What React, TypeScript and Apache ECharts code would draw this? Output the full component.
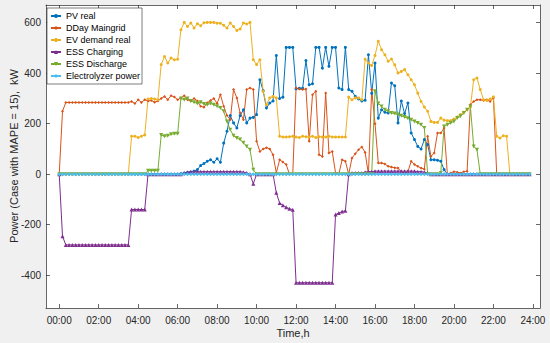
import React, { useEffect, useRef } from "react";
import * as echarts from "echarts";

// 10-minute time slots, expressed in hours (0:00 ... 23:50)
const timeSlots: number[] = Array.from({ length: 144 }, (_, i) => i / 6);

const xTickHours = [0, 2, 4, 6, 8, 10, 12, 14, 16, 18, 20, 22, 24];
const yTickValues = [-400, -200, 0, 200, 400, 600];

const pvReal = [
  0, 0, 0, 0, 0, 0, 0, 0, 0, 0, 0, 0, 0, 0, 0, 0, 0, 0,
  0, 0, 0, 0, 0, 0, 0, 0, 0, 0, 0, 0, 0, 0, 0, 0, 0, 0,
  0, 2, 4, 6, 8, 12,
  18, 34, 42, 51, 57, 47,
  61, 47, 123, 170, 232, 203,
  183, 232, 255, 203, 222, 225,
  236, 374, 330, 262, 282, 290,
  470, 300, 305, 502, 502, 502,
  338, 340, 340, 450, 354, 358,
  502, 502, 420, 502, 427, 502,
  502, 341, 335, 502, 335, 328,
  308, 298, 290, 293, 473, 320,
  440, 222, 255, 245, 242, 361,
  350, 203, 290, 240, 282, 163,
  137, 110, 100, 137, 117, 57,
  57, 55, 51, 18, 0, 0,
  0, 0, 0, 0, 0, 0, 0, 0, 0, 0, 0, 0,
  0, 0, 0, 0, 0, 0, 0, 0, 0, 0, 0, 0,
];

const ddayMaingrid = [
  0, 249, 284, 284, 284, 284,
  284, 284, 284, 284, 284, 284,
  284, 284, 284, 284, 284, 284,
  284, 284, 284, 284, 288, 280,
  295, 284, 295, 290, 292, 285,
  290, 300, 308, 295, 311, 306,
  295, 302, 311, 295, 290, 300,
  290, 269, 265, 283, 292, 300,
  280, 315, 269, 232, 216, 335,
  302, 242, 216, 335, 341, 335,
  130, 90, 100, 105, 100, 77,
  5, 57, 48, 38, 0, 0,
  341, 337, 335, 337, 130, 315,
  328, 77, 70, 321, 84, 90,
  5, 0, 57, 51, 0, 64,
  81, 97, 108, 86, 0, 335,
  200, 44, 44, 40, 31, 28,
  25, 24, 10, 5, 10, 51,
  38, 31, 24, 20, 150, 70,
  84, 163, 163, 183, 0, 5,
  10, 8, 5, 10, 12, 275,
  288, 295, 295, 292, 295, 288,
  302, 0, 0, 0, 0, 0,
  0, 0, 0, 0, 0, 0,
];

const evDemandReal = [
  0, 0, 0, 0, 0, 0,
  0, 0, 0, 0, 0, 0,
  0, 0, 0, 0, 0, 0,
  0, 0, 0, 0, 150, 150,
  145, 150, 155, 298, 300, 298,
  295, 434, 466, 440, 460, 453,
  455, 572, 601, 585, 599, 579,
  596, 588, 600, 601, 601, 601,
  598, 598, 590, 579, 599, 585,
  569, 575, 599, 595, 601, 453,
  434, 453, 328, 275, 302, 308,
  302, 150, 147, 147, 148, 150,
  147, 145, 150, 148, 147, 150,
  145, 148, 147, 147, 150, 147,
  147, 147, 147, 147, 305, 295,
  302, 302, 295, 455, 440, 430,
  470, 526, 493, 473, 447, 456,
  433, 401, 407, 414, 394, 374,
  354, 321, 288, 266, 249, 209,
  205, 205, 222, 214, 212, 212,
  218, 226, 236, 245, 255, 266,
  374, 381, 335, 295, 292, 298,
  306, 150, 143, 152, 150, 0,
  0, 0, 0, 0, 0, 0,
];

const essCharging = [
  0, -246, -280, -280, -280, -280,
  -280, -280, -280, -280, -280, -280,
  -280, -280, -280, -280, -280, -280,
  -280, -280, -280, -280, -140, -140,
  -140, -140, -140, 0, 0, 0,
  0, 0, 0, 0, 0, 0,
  0, 0, 5, 8, 10, 10,
  10, 10, 10, 10, 10, 10,
  10, 10, 10, 10, 10, 10,
  10, 10, 8, 5, 0, -38,
  0, 0, 0, 0, 0, 0,
  -74, -114, -123, -131, -137, -141,
  -430, -430, -430, -430, -430, -430,
  -430, -430, -430, -430, -430, -430,
  -160, -154, -148, -145, 0, 5,
  5, 5, 5, 8, 10, 10,
  12, 12, 12, 12, 12, 12,
  12, 12, 12, 12, 12, 12,
  12, 10, 10, 8, 5, 0,
  0, 0, 0, 0, 0, 0,
  0, 0, 0, 0, 0, 0,
  0, 0, 0, 0, 0, 0,
  0, 0, 0, 0, 0, 0,
  0, 0, 0, 0, 0, 0,
];

const essDischarge = [
  0, 0, 0, 0, 0, 0,
  0, 0, 0, 0, 0, 0,
  0, 0, 0, 0, 0, 0,
  0, 0, 0, 0, 0, 0,
  0, 0, 0, 14, 14, 14,
  14, 155, 150, 152, 158, 160,
  160, 300, 295, 300, 290, 285,
  280, 285, 278, 275, 280, 275,
  269, 262, 249, 209, 176, 152,
  143, 137, 124, 110, 97, 18,
  0, 0, 0, 0, 0, 0,
  0, 0, 0, 0, 0, 0,
  0, 0, 0, 0, 0, 0,
  0, 0, 0, 0, 0, 0,
  0, 0, 0, 0, 0, 0,
  0, 0, 0, 0, 0, 0,
  328, 280, 268, 255, 249, 242,
  240, 236, 231, 226, 221, 216,
  209, 203, 196, 183, 0, 0,
  0, 0, 5, 189, 196, 203,
  209, 222, 229, 242, 255, 268,
  110, 97, 0, 0, 0, 0,
  0, 0, 0, 0, 0, 0,
  0, 0, 0, 0, 0, 0,
];

const electrolyzerPower = [
  0, 0, 0, 0, 0, 0, 0, 0, 0, 0, 0, 0,
  0, 0, 0, 0, 0, 0, 0, 0, 0, 0, 0, 0,
  0, 0, 0, 0, 0, 0, 0, 0, 0, 0, 0, 0,
  0, 0, 0, 0, 0, 0, 0, 0, 0, 0, 0, 0,
  0, 0, 0, 0, 0, 0, 0, 0, 0, 0, 0, 0,
  0, 0, 0, 0, 0, 0, 0, 0, 0, 0, 0, 0,
  0, 0, 0, 0, 0, 0, 0, 0, 0, 0, 0, 0,
  0, 0, 0, 0, 0, 0, 0, 0, 0, 0, 0, 0,
  0, 0, 0, 0, 0, 0, 0, 0, 0, 0, 0, 0,
  0, 0, 0, 0, 0, 0, 0, 0, 0, 0, 0, 0,
  0, 0, 0, 0, 0, 0, 0, 0, 0, 0, 0, 0,
  0, 0, 0, 0, 0, 0, 0, 0, 0, 0, 0, 0,
];

const FONT = "'Liberation Sans', Arial, Helvetica, sans-serif";
const AXIS_COLOR = "#262626";

const pair = (vals: number[]) => vals.map((v, i) => [timeSlots[i], v]);

export default function App() {
  const ref = useRef<HTMLDivElement>(null);

  useEffect(() => {
    if (!ref.current) return;
    const chart = echarts.init(ref.current, null, { renderer: "svg" });

    const xCommon = {
      type: "value" as const,
      min: -0.67,
      max: 24.36,
      splitLine: { show: false },
      axisLine: { show: true, onZero: false, lineStyle: { color: AXIS_COLOR, width: 0.7 } },
      axisTick: {
        show: true,
        inside: true,
        length: 4,
        customValues: xTickHours,
        lineStyle: { color: AXIS_COLOR, width: 0.7 },
      },
    };
    const yCommon = {
      type: "value" as const,
      min: -530,
      max: 670,
      splitLine: { show: false },
      axisLine: { show: true, onZero: false, lineStyle: { color: AXIS_COLOR, width: 0.7 } },
      axisTick: {
        show: true,
        inside: true,
        length: 4,
        customValues: yTickValues,
        lineStyle: { color: AXIS_COLOR, width: 0.7 },
      },
    };

    const mk = (
      name: string,
      vals: number[],
      color: string,
      symbol: string,
      size: number,
      rotate = 0
    ) => ({
      name,
      type: "line",
      data: pair(vals),
      symbol,
      symbolSize: size,
      symbolRotate: rotate,
      showSymbol: true,
      lineStyle: { color, width: 1 },
      itemStyle: { color, borderWidth: 0 },
      xAxisIndex: 0,
      yAxisIndex: 0,
      z: 2,
    });

    chart.setOption({
      animation: false,
      backgroundColor: "#f0f0f0",
      grid: {
        left: 46,
        right: 10,
        top: 5,
        bottom: 35,
        show: true,
        backgroundColor: "#ffffff",
        borderWidth: 0,
      },
      xAxis: [
        {
          ...xCommon,
          position: "bottom",
          axisLabel: {
            customValues: xTickHours,
            formatter: (v: number) => String(Math.round(v)).padStart(2, "0") + ":00",
            fontSize: 10,
            fontFamily: FONT,
            color: AXIS_COLOR,
            margin: 7,
          },
        },
        {
          ...xCommon,
          position: "top",
          axisLabel: { show: false },
        },
      ],
      yAxis: [
        {
          ...yCommon,
          position: "left",
          axisLabel: {
            customValues: yTickValues,
            fontSize: 10,
            fontFamily: FONT,
            color: AXIS_COLOR,
            margin: 5,
          },
        },
        {
          ...yCommon,
          position: "right",
          axisLabel: { show: false },
        },
      ],
      legend: {
        orient: "vertical",
        left: 47,
        top: 8,
        padding: [2, 2, 2, 3],
        itemWidth: 10,
        itemHeight: 5,
        itemGap: 0,
        backgroundColor: "#ffffff",
        borderColor: AXIS_COLOR,
        borderWidth: 0.6,
        borderRadius: 0,
        textStyle: { fontSize: 9, fontFamily: FONT, color: "#000", lineHeight: 12 },
        data: [
          "PV real",
          "DDay Maingrid",
          "EV demand real",
          "ESS Charging",
          "ESS Discharge",
          "Electrolyzer power",
        ],
      },
      graphic: [
        {
          type: "text",
          x: 293,
          y: 333,
          style: {
            text: "Time,h",
            align: "center",
            verticalAlign: "middle",
            fontSize: 11,
            fontFamily: FONT,
            fill: AXIS_COLOR,
          },
        },
        {
          type: "text",
          x: 14,
          y: 156,
          rotation: Math.PI / 2,
          style: {
            text: "Power (Case with MAPE = 15),  kW",
            align: "center",
            verticalAlign: "middle",
            fontSize: 11,
            fontFamily: FONT,
            fill: AXIS_COLOR,
          },
        },
      ],
      series: [
        mk("PV real", pvReal, "#0072BD", "circle", 3),
        mk("DDay Maingrid", ddayMaingrid, "#D95319", "diamond", 3),
        mk("EV demand real", evDemandReal, "#EDB120", "circle", 3),
        mk("ESS Charging", essCharging, "#7E2F8E", "triangle", 4),
        mk("ESS Discharge", essDischarge, "#77AC30", "triangle", 4, 180),
        mk("Electrolyzer power", electrolyzerPower, "#4DBEEE", "diamond", 4),
      ],
    });

    return () => chart.dispose();
  }, []);

  return (
    <div
      ref={ref}
      style={{ position: "absolute", left: 0, top: 0, width: 550, height: 343 }}
    />
  );
}
